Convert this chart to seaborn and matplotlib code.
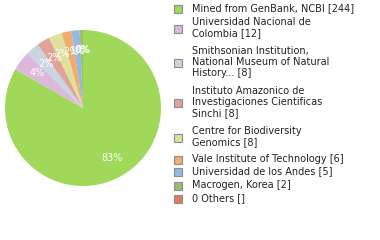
import math
import matplotlib
matplotlib.use("Agg")
import matplotlib.pyplot as plt
from matplotlib.patches import Rectangle
import seaborn as sns

sns.set_theme(style="white")
plt.rcParams['font.family'] = ['DejaVu Sans']

labels = [
    "Mined from GenBank, NCBI [244]",
    "Universidad Nacional de\nColombia [12]",
    "Smithsonian Institution,\nNational Museum of Natural\nHistory... [8]",
    "Instituto Amazonico de\nInvestigaciones Cientificas\nSinchi [8]",
    "Centre for Biodiversity\nGenomics [8]",
    "Vale Institute of Technology [6]",
    "Universidad de los Andes [5]",
    "Macrogen, Korea [2]",
    "0 Others []",
]
values = [244, 12, 8, 8, 8, 6, 5, 2, 0]
colors = ["#a0d95a", "#dbb8dc", "#c9d6e2", "#e0a39a", "#dfe09c",
          "#f0ad70", "#94b8e0", "#9bbe6e", "#e07a5a"]

fig = plt.figure(figsize=(3.8, 2.4), dpi=100)
ax = fig.add_axes([5/380, 54/240, 156/380, 156/240])
ax.pie(values, colors=colors, startangle=90, counterclock=False,
       autopct=lambda p: f"{int(math.floor(p + 1e-9))}%", pctdistance=0.74,
       textprops=dict(color="white", fontsize=7),
       wedgeprops=dict(linewidth=0))
ax.set_xlim(-1, 1)
ax.set_ylim(-1, 1)
ax.set_aspect("equal")
ax.axis("off")

# legend, placed entry by entry (pixel y of each entry's first line centre)
first_line_y = [9, 23, 52, 92, 132, 160, 172, 186, 199]
line_h = 11.0
for lab, col, y0 in zip(labels, colors, first_line_y):
    n = lab.count("\n") + 1
    yc = y0 + (n - 1) * line_h / 2
    fig.patches.append(Rectangle((174/380, 1 - (yc + 4)/240), 8/380, 8/240,
                                 transform=fig.transFigure, facecolor=col,
                                 edgecolor="#8c8c8c", linewidth=0.8))
    fig.text(192/380, 1 - (y0 - 6)/240, lab, fontsize=7, color="#222222",
             va="top", ha="left", linespacing=1.1)

fig.savefig("out.png", dpi=100)
